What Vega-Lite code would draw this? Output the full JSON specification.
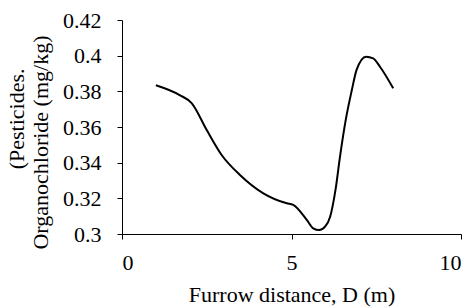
{
  "$schema": "https://vega.github.io/schema/vega-lite/v6.json",
  "autosize": "none",
  "width": 339,
  "height": 214,
  "padding": {"left": 122, "top": 20, "right": 15, "bottom": 74},
  "background": "white",
  "config": {
    "view": {"stroke": null},
    "axis": {
      "grid": false,
      "domainColor": "black",
      "tickColor": "black",
      "labelColor": "black",
      "titleColor": "black",
      "labelFont": "Liberation Serif",
      "titleFont": "Liberation Serif",
      "labelFontSize": 22,
      "titleFontSize": 22,
      "titleFontWeight": "normal",
      "tickSize": 5
    }
  },
  "data": {
    "values": [
      {"D": 1.0, "C": 0.3834},
      {"D": 1.7, "C": 0.3779},
      {"D": 2.06, "C": 0.3733},
      {"D": 2.5, "C": 0.3583},
      {"D": 2.94, "C": 0.3443},
      {"D": 3.48, "C": 0.3331},
      {"D": 4.17, "C": 0.3228},
      {"D": 4.86, "C": 0.3172},
      {"D": 5.05, "C": 0.3163},
      {"D": 5.45, "C": 0.3079},
      {"D": 5.64, "C": 0.3032},
      {"D": 5.82, "C": 0.3022},
      {"D": 5.99, "C": 0.3041},
      {"D": 6.14, "C": 0.3097},
      {"D": 6.3, "C": 0.325},
      {"D": 6.43, "C": 0.3433},
      {"D": 6.6, "C": 0.364},
      {"D": 6.78, "C": 0.3807},
      {"D": 6.92, "C": 0.392},
      {"D": 7.2, "C": 0.3994},
      {"D": 7.41, "C": 0.3985},
      {"D": 7.61, "C": 0.3938},
      {"D": 8.0, "C": 0.3817}
    ]
  },
  "mark": {"type": "line", "interpolate": "monotone", "color": "black", "strokeWidth": 2},
  "encoding": {
    "x": {
      "field": "D",
      "type": "quantitative",
      "scale": {"domain": [0, 10], "nice": false, "zero": false},
      "axis": {
        "values": [0, 5, 10],
        "title": "Furrow distance, D (m)",
        "labelPadding": 13,
        "titleBaseline": "alphabetic",
        "titleY": 67.7
      }
    },
    "y": {
      "field": "C",
      "type": "quantitative",
      "scale": {"domain": [0.3, 0.42], "nice": false, "zero": false},
      "axis": {
        "values": [0.3, 0.32, 0.34, 0.36, 0.38, 0.4, 0.42],
        "format": "~g",
        "labelPadding": 16,
        "title": ["(Pesticides.\u00a0\u00a0\u00a0\u00a0\u00a0\u00a0\u200b", "Organochloride (mg/kg)"],
        "titleBaseline": "alphabetic",
        "titleAlign": "right",
        "titleX": -99,
        "titleY": 15,
        "titleLineHeight": 24
      }
    }
  }
}
